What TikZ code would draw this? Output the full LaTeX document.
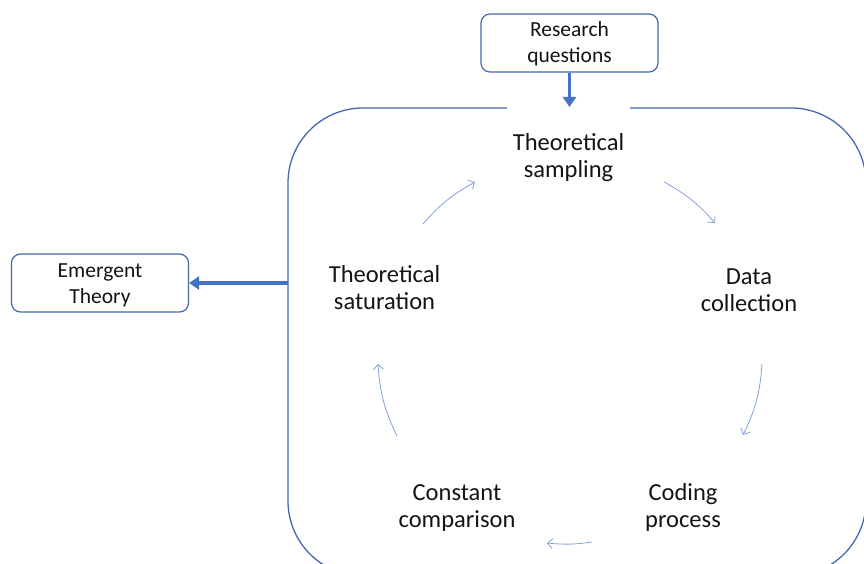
\documentclass[tikz,border=0pt]{standalone}
\usepackage{fontspec}
\setmainfont{Carlito}
\usetikzlibrary{arrows.meta}
\definecolor{frameblue}{RGB}{68,105,175}
\definecolor{thickblue}{RGB}{68,114,196}
\definecolor{cycleblue}{RGB}{130,160,220}
\definecolor{ink}{RGB}{20,20,20}
\newcommand{\tallline}{\rule{0pt}{21.8pt}}
\begin{document}
\begin{tikzpicture}[x=1pt,y=-1pt,
  inputbox/.style={draw=frameblue, line width=1.2pt, rounded corners=9pt, fill=white,
    minimum width=177pt, minimum height=58pt, align=center, inner sep=0pt,
    font=\fontsize{21.5}{26}\selectfont, text=ink},
  stage/.style={align=center, inner sep=0pt, font=\fontsize{24.5}{27}\selectfont, text=ink},
  feed/.style={thickblue, line width=3.6pt, -{Triangle[length=10pt,width=13pt]}},
  cyclearrow/.style={cycleblue, line width=0.8pt, -{Straight Barb[length=5pt,width=10pt]}},
]
\useasboundingbox (0,0) rectangle (864,564);

% outer cycle frame, running past the page edges
\begin{scope}
  \clip (0,0) rectangle (864,564);
  \draw[frameblue, line width=1.3pt, rounded corners=75pt] (288,108) rectangle (866,576);
\end{scope}

% input and output boxes
\node[inputbox] (rq) at (569.5,43) {\tallline Research\\questions\strut};
\node[inputbox] (et) at (100,283) {\tallline Emergent\\Theory\strut};

% stages of the cycle
\node[stage, fill=white, minimum width=123pt, minimum height=109pt] (ts) at (568.5,158.6)
  {Theoretical\strut\\sampling\strut};
\node[stage] (dc) at (749,292.1) {Data\strut\\collection\strut};
\node[stage] (cp) at (683,508.6) {Coding\strut\\process\strut};
\node[stage] (cc) at (457,508.6) {Constant\strut\\comparison\strut};
\node[stage] (sat) at (384.5,290.6) {Theoretical\strut\\saturation\strut};

% entry and exit of the cycle
\coordinate (entry) at (569.5,107);
\coordinate (exit) at (288,283);
\draw[feed] (rq) -- (entry);
\draw[feed] (exit) -- (et);

% arc arrows between stages
\coordinate (a1s) at (423,224); \coordinate (a1e) at (475,182);
\coordinate (a2s) at (664,182); \coordinate (a2e) at (715,223);
\coordinate (a3s) at (762,364); \coordinate (a3e) at (743,435);
\coordinate (a4s) at (592,542); \coordinate (a4e) at (547,543);
\coordinate (a5s) at (397,436); \coordinate (a5e) at (378,364);
\draw[cyclearrow] (a1s) to[bend left=10] (a1e);
\draw[cyclearrow] (a2s) to[bend left=10] (a2e);
\draw[cyclearrow] (a3s) to[bend left=11] (a3e);
\draw[cyclearrow] (a4s) to[bend left=7] (a4e);
\draw[cyclearrow] (a5s) to[bend left=11] (a5e);
\end{tikzpicture}
\end{document}
